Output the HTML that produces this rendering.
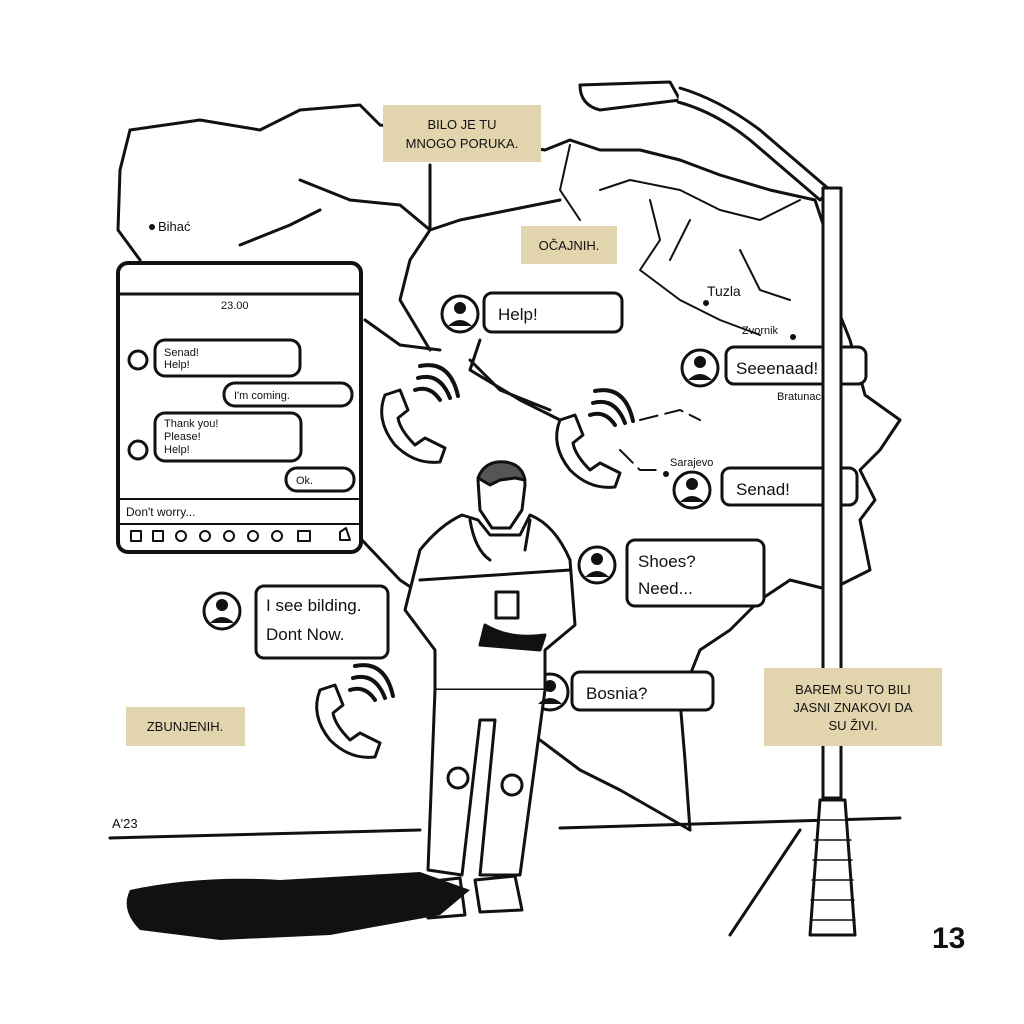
<!DOCTYPE html>
<html><head><meta charset="utf-8"><style>
html,body{margin:0;padding:0;background:#fff;}
svg{display:block}
text{font-family:"Liberation Sans",sans-serif;fill:#111}
</style></head><body>
<svg width="1024" height="1024" viewBox="0 0 1024 1024" xmlns="http://www.w3.org/2000/svg">
<g fill="none" stroke="#111" stroke-width="3" stroke-linejoin="round" stroke-linecap="round">
<path d="M130 130 L200 120 L260 130 L300 110 L360 105 L380 125 L545 150 L570 140 L600 150 L640 150 L680 160 L720 175 L770 190 L815 200 L825 230 L830 290 L850 340 L865 395 L900 420 L880 450 L860 470 L875 500 L860 520 L870 570 L830 590 L790 580 L760 600 L730 630 L700 650 L680 700 L685 760 L690 830"/>
<path d="M130 130 L120 170 L118 230 L140 260"/>
<path d="M362 540 L400 580 L430 600"/>
<path d="M540 740 L580 770 L620 790 L690 830"/>
<path d="M300 180 L350 200 L400 205 L430 230 L460 220 L510 210 L560 200 M430 165 L430 230 L410 260 L400 300 L430 350"/>
<path d="M240 245 L290 225 L320 210 M365 320 L400 345 L440 350 M480 340 L470 370 L520 400 L560 420 M470 360 L500 390 L550 410"/>
<path d="M570 145 L560 190 L580 220 M650 200 L660 240 L640 270 L680 300 L720 320 L760 335 M690 220 L670 260 M740 250 L760 290 L790 300" stroke-width="2"/>
<path d="M640 420 L680 410 L700 420 M620 450 L640 470 L660 470" stroke-width="2" stroke-dasharray="18 8"/>
<path d="M600 190 L630 180 L680 190 L720 210 L760 220 L800 200" stroke-width="2"/>
<rect x="118" y="263" width="243" height="289" rx="10" fill="#fff" stroke-width="4"/>
<line x1="120" y1="294" x2="360" y2="294"/>
<line x1="120" y1="499" x2="360" y2="499" stroke-width="2"/>
<line x1="120" y1="524" x2="360" y2="524" stroke-width="2"/>
<circle cx="138" cy="360" r="9"/><rect x="155" y="340" width="145" height="36" rx="10"/>
<rect x="224" y="383" width="128" height="23" rx="11"/>
<circle cx="138" cy="450" r="9"/><rect x="155" y="413" width="146" height="48" rx="10"/>
<rect x="286" y="468" width="68" height="23" rx="11"/>
<g stroke-width="2"><rect x="131" y="531" width="10" height="10"/><rect x="153" y="531" width="10" height="10"/><circle cx="181" cy="536" r="5"/><circle cx="205" cy="536" r="5"/><circle cx="229" cy="536" r="5"/><circle cx="253" cy="536" r="5"/><circle cx="277" cy="536" r="5"/><rect x="298" y="531" width="12" height="10"/><path d="M340 540 L340 532 L346 528 L350 540 Z"/></g>
<rect x="484" y="293" width="138" height="39" rx="8" fill="#fff"/>
<rect x="726" y="347" width="140" height="37" rx="8" fill="#fff"/>
<rect x="722" y="468" width="135" height="37" rx="8" fill="#fff"/>
<rect x="627" y="540" width="137" height="66" rx="8" fill="#fff"/>
<rect x="256" y="586" width="132" height="72" rx="8" fill="#fff"/>
<rect x="572" y="672" width="141" height="38" rx="8" fill="#fff"/>
<circle cx="460" cy="314" r="18"/><circle cx="700" cy="368" r="18"/><circle cx="692" cy="490" r="18"/><circle cx="597" cy="565" r="18"/><circle cx="222" cy="611" r="18"/><circle cx="550" cy="692" r="18"/>
<path d="M385 395 Q375 420 395 445 Q415 465 440 462 L445 448 L425 438 L415 445 Q400 430 398 418 L408 410 L400 390 Z"/>
<path d="M560 420 Q550 445 570 470 Q590 490 615 487 L620 473 L600 463 L590 470 Q575 455 573 443 L583 435 L575 415 Z"/>
<path d="M320 690 Q310 715 330 740 Q350 760 375 757 L380 743 L360 733 L350 740 Q335 725 333 713 L343 705 L335 685 Z"/>
<path d="M415 390 Q430 385 440 400 M418 378 Q440 372 450 398 M420 366 Q450 360 458 396" stroke-width="4"/>
<path d="M590 415 Q605 410 615 425 M593 403 Q615 397 625 423 M595 391 Q625 385 633 421" stroke-width="4"/>
<path d="M350 690 Q365 685 375 700 M353 678 Q375 672 385 698 M355 666 Q385 660 393 696" stroke-width="4"/>
<path d="M110 838 L420 830 M560 828 L900 818"/>
<path d="M730 935 L800 830"/>
<path d="M580 85 L670 82 L680 100 L600 110 Q580 105 580 85 Z" fill="#fff"/>
<path d="M680 88 Q720 100 760 130 L830 190 L820 200 L750 140 Q715 112 678 102" fill="#fff"/>
<rect x="823" y="188" width="18" height="610" fill="#fff"/>
<path d="M820 800 L845 800 L855 935 L810 935 Z" fill="#fff"/>
<path d="M815 820 L850 820 M814 840 L851 840 M813 860 L852 860 M812 880 L853 880 M811 900 L854 900 M811 920 L855 920" stroke-width="1.5"/>
<!-- man -->
<path d="M478 480 Q482 462 505 462 Q525 465 525 485 L522 510 L510 528 L492 528 L480 510 Z" fill="#fff"/>
<path d="M478 478 Q485 460 505 462 Q522 464 525 480 L515 478 L500 480 L490 485 Z" fill="#555"/>
<path d="M462 515 Q440 525 420 550 L405 610 L435 650 L435 690 L545 690 L545 650 L575 625 L570 560 Q555 525 530 515 L520 535 L490 535 L478 520 Z" fill="#fff"/>
<path d="M470 520 Q475 550 490 560 M530 520 L525 550"/>
<line x1="420" y1="580" x2="570" y2="570"/>
<path d="M435 690 L428 870 L462 875 L480 720 L495 720 L480 875 L520 875 L545 690" fill="#fff"/>
<path d="M496 592 L518 592 L518 618 L496 618 Z" fill="#fff"/>
<path d="M485 625 Q510 640 545 635 L540 650 L480 645 Z" fill="#111"/>
<circle cx="458" cy="778" r="10"/><circle cx="512" cy="785" r="10"/>
<path d="M425 882 L460 878 L465 915 L428 918 Z M475 880 L515 876 L522 910 L480 912 Z" fill="#fff"/>
</g>
<path d="M130 890 Q200 875 280 880 L420 872 L470 890 L440 915 L330 935 L220 940 L140 930 Q120 910 130 890 Z" fill="#111"/>
<g fill="#111">
<circle cx="460" cy="308" r="6"/><path d="M448 326 Q460 314 472 326 Z"/>
<circle cx="700" cy="362" r="6"/><path d="M688 380 Q700 368 712 380 Z"/>
<circle cx="692" cy="484" r="6"/><path d="M680 502 Q692 490 704 502 Z"/>
<circle cx="597" cy="559" r="6"/><path d="M585 577 Q597 565 609 577 Z"/>
<circle cx="222" cy="605" r="6"/><path d="M210 623 Q222 611 234 623 Z"/>
<circle cx="550" cy="686" r="6"/><path d="M538 704 Q550 692 562 704 Z"/>
<circle cx="152" cy="227" r="3"/><circle cx="706" cy="303" r="3"/><circle cx="793" cy="337" r="3"/><circle cx="666" cy="474" r="3"/>
</g>
<g fill="#e2d5ae">
<rect x="383" y="105" width="158" height="57"/>
<rect x="521" y="226" width="96" height="38"/>
<rect x="126" y="707" width="119" height="39"/>
<rect x="764" y="668" width="178" height="78"/>
</g>
<g font-size="13" text-anchor="middle">
<text x="462" y="129">BILO JE TU</text><text x="462" y="148">MNOGO PORUKA.</text>
<text x="569" y="250">OČAJNIH.</text>
<text x="185" y="731">ZBUNJENIH.</text>
<text x="853" y="694">BAREM SU TO BILI</text><text x="853" y="712">JASNI ZNAKOVI DA</text><text x="853" y="730">SU ŽIVI.</text>
</g>
<g font-size="17">
<text x="498" y="320">Help!</text>
<text x="736" y="374">Seeenaad!</text>
<text x="736" y="495">Senad!</text>
<text x="638" y="567">Shoes?</text><text x="638" y="594">Need...</text>
<text x="266" y="611">I see bilding.</text><text x="266" y="640">Dont  Now.</text>
<text x="586" y="699">Bosnia?</text>
</g>
<g font-size="11">
<text x="221" y="309">23.00</text>
<text x="164" y="356">Senad!</text><text x="164" y="368">Help!</text>
<text x="234" y="399">I'm coming.</text>
<text x="164" y="427">Thank you!</text><text x="164" y="440">Please!</text><text x="164" y="453">Help!</text>
<text x="296" y="484">Ok.</text>
<text x="126" y="516" font-size="12">Don't worry...</text>
<text x="158" y="231" font-size="13">Bihać</text>
<text x="707" y="296" font-size="14">Tuzla</text>
<text x="742" y="334">Zvornik</text>
<text x="777" y="400">Bratunac</text>
<text x="670" y="466">Sarajevo</text>
<text x="112" y="828" font-size="13">A'23</text>
</g>
<text x="932" y="948" font-size="30" font-weight="bold">13</text>
</svg>
</body></html>
